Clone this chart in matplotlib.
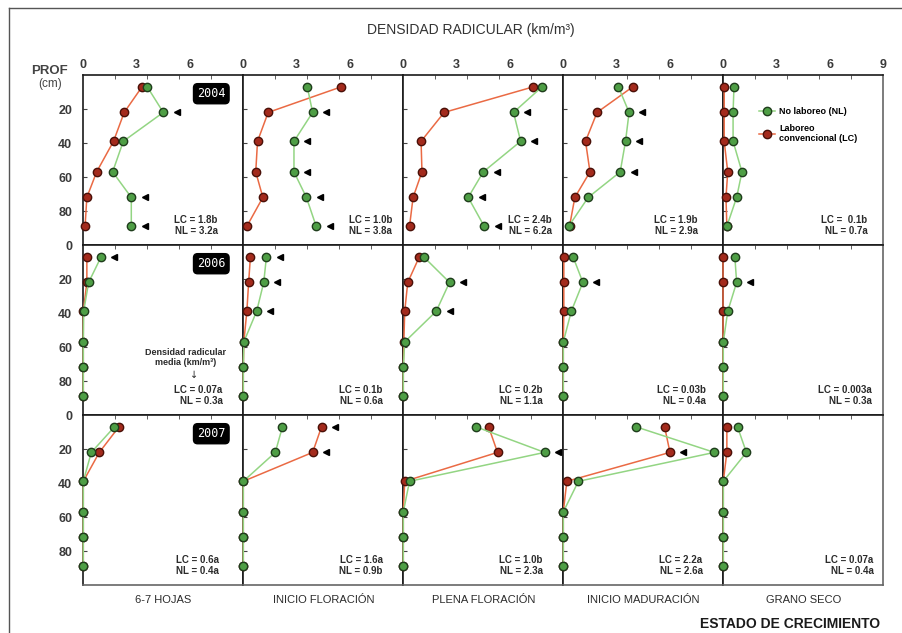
import numpy as np
import matplotlib
matplotlib.use("Agg")
import matplotlib.pyplot as plt
from matplotlib import font_manager
from matplotlib.lines import Line2D

# fuentes: Liberation (tipo Arial), con DejaVu como respaldo
plt.rcParams["font.family"] = ["Liberation Sans", "DejaVu Sans"]
_names = {f.name for f in font_manager.fontManager.ttflist}
NARROW = "Liberation Sans Narrow" if "Liberation Sans Narrow" in _names else "Liberation Sans"

# ------------------------------------------------------------------
# datos (densidad radicular, km/m3)
# ------------------------------------------------------------------
depth = [7, 22, 39, 57, 72, 89]

years = ["2004", "2006", "2007"]
stages = ["6-7 HOJAS", "INICIO FLORACIÓN", "PLENA FLORACIÓN",
          "INICIO MADURACIÓN", "GRANO SECO"]

lc_2004 = [
    [3.3, 2.3, 1.7, 0.75, 0.2, 0.1],
    [5.5, 1.4, 0.8, 0.7, 1.1, 0.2],
    [7.3, 2.3, 1.0, 1.05, 0.55, 0.35],
    [3.9, 1.9, 1.25, 1.5, 0.65, 0.35],
    [0.05, 0.05, 0.05, 0.25, 0.15, 0.2],
]
nl_2004 = [
    [3.6, 4.5, 2.25, 1.65, 2.7, 2.7],
    [3.6, 3.9, 2.85, 2.85, 3.55, 4.1],
    [7.8, 6.2, 6.6, 4.5, 3.65, 4.55],
    [3.1, 3.7, 3.5, 3.2, 1.4, 0.3],
    [0.6, 0.55, 0.55, 1.05, 0.75, 0.2],
]
lc_2006 = [
    [0.2, 0.2, 0.0, 0.0, 0.0, 0.0],
    [0.4, 0.3, 0.2, 0.03, 0.0, 0.0],
    [0.9, 0.25, 0.08, 0.03, 0.0, 0.0],
    [0.03, 0.03, 0.03, 0.0, 0.0, 0.0],
    [0.0, 0.0, 0.0, 0.0, 0.0, 0.0],
]
nl_2006 = [
    [1.0, 0.3, 0.02, 0.0, 0.0, 0.0],
    [1.3, 1.15, 0.75, 0.03, 0.0, 0.0],
    [1.15, 2.6, 1.85, 0.08, 0.0, 0.0],
    [0.55, 1.1, 0.45, 0.0, 0.0, 0.0],
    [0.65, 0.75, 0.25, 0.0, 0.0, 0.0],
]
lc_2007 = [
    [2.0, 0.9, 0.0, 0.0, 0.0, 0.0],
    [4.4, 3.9, 0.0, 0.0, 0.0, 0.0],
    [4.8, 5.3, 0.08, 0.0, 0.0, 0.0],
    [5.7, 6.0, 0.2, 0.0, 0.0, 0.0],
    [0.2, 0.2, 0.0, 0.0, 0.0, 0.0],
]
nl_2007 = [
    [1.75, 0.45, 0.0, 0.0, 0.0, 0.0],
    [2.2, 1.8, 0.0, 0.0, 0.0, 0.0],
    [4.1, 7.95, 0.35, 0.0, 0.0, 0.0],
    [4.1, 8.5, 0.85, 0.0, 0.0, 0.0],
    [0.8, 1.3, 0.0, 0.0, 0.0, 0.0],
]

# medias por panel
means_2004 = ["LC = 1.8b\nNL = 3.2a", "LC = 1.0b\nNL = 3.8a", "LC = 2.4b\nNL = 6.2a",
              "LC = 1.9b\nNL = 2.9a", "LC =  0.1b\nNL = 0.7a"]
means_2006 = ["LC = 0.07a\nNL = 0.3a", "LC = 0.1b\nNL = 0.6a", "LC = 0.2b\nNL = 1.1a",
              "LC = 0.03b\nNL = 0.4a", "LC = 0.003a\nNL = 0.3a"]
means_2007 = ["LC = 0.6a\nNL = 0.4a", "LC = 1.6a\nNL = 0.9b", "LC = 1.0b\nNL = 2.3a",
              "LC = 2.2a\nNL = 2.6a", "LC = 0.07a\nNL = 0.4a"]

# flechas de diferencia significativa: (serie, indices de profundidad)
arrows_2004 = [("NL", [1, 4, 5]), ("NL", [1, 2, 3, 4, 5]), ("NL", [1, 2, 3, 4, 5]),
               ("NL", [1, 2, 3]), ("NL", [])]
arrows_2006 = [("NL", [0]), ("NL", [0, 1, 2]), ("NL", [1, 2]), ("NL", [1]), ("NL", [1])]
arrows_2007 = [("NL", []), ("LC", [0, 1]), ("NL", [1]), ("LC", [1]), ("NL", [])]

lc_all = [lc_2004, lc_2006, lc_2007]
nl_all = [nl_2004, nl_2006, nl_2007]
means_all = [means_2004, means_2006, means_2007]
arrows_all = [arrows_2004, arrows_2006, arrows_2007]

# ------------------------------------------------------------------
# estilo y geometria (pixeles de la figura)
# ------------------------------------------------------------------
W, H = 903, 633
LEFT, COLW = 83.3, 160
TOPS = [75, 245, 415]
ROWH = 170
means_x = [[0.84, 0.93, 0.93, 0.84, 0.90],
           [0.87, 0.87, 0.87, 0.89, 0.93],
           [0.85, 0.87, 0.87, 0.87, 0.94]]

NL_LINE, NL_FILL, NL_EDGE = "#93d583", "#4e9e45", "#1f3d1c"
LC_LINE, LC_FILL, LC_EDGE = "#ea6a44", "#a32a1c", "#4a1008"
TXT = "#2b2b2b"

fig = plt.figure(figsize=(W / 100, H / 100), dpi=100)
fig.patch.set_facecolor("white")

for r in range(3):
    for c in range(5):
        ax = fig.add_axes([(LEFT + c * COLW) / W, 1 - (TOPS[r] + ROWH) / H,
                           COLW / W, ROWH / H])
        ax.set_facecolor("white")
        ax.plot(lc_all[r][c], depth, color=LC_LINE, lw=1.1, marker="o", ms=6,
                mfc=LC_FILL, mec=LC_EDGE, mew=1.0, clip_on=False, zorder=3)
        ax.plot(nl_all[r][c], depth, color=NL_LINE, lw=1.1, marker="o", ms=6,
                mfc=NL_FILL, mec=NL_EDGE, mew=1.0, clip_on=False, zorder=4)

        serie, idx = arrows_all[r][c]
        vals = nl_all[r][c] if serie == "NL" else lc_all[r][c]
        for i in idx:
            ax.plot(vals[i] + 0.75, depth[i], marker="<", ms=4, color="black",
                    mec="black", zorder=5)

        ax.set_xlim(0, 9)
        ax.set_ylim(100, 0)

        # eje x arriba
        ax.xaxis.set_ticks_position("top")
        if r == 0:
            xt = [0, 3, 6, 9] if c == 4 else [0, 3, 6]
            ax.set_xticks(xt)
            ax.set_xticklabels([str(v) for v in xt], fontsize=9, fontweight="bold", color="#3a3a3a")
        else:
            ax.set_xticks([])
        ax.set_xticks(np.linspace(0, 9, 6)[1:-1], minor=True)
        ax.tick_params(axis="x", which="major", length=0, pad=3)
        ax.tick_params(axis="x", which="minor", direction="in", length=3,
                       top=True, bottom=False, color="#444")

        # eje y
        yt = [20, 40, 60, 80, 100] if r < 2 else [20, 40, 60, 80]
        ax.set_yticks(yt)
        if c == 0:
            ax.set_yticklabels(["0" if v == 100 else str(v) for v in yt],
                               fontsize=9, fontweight="bold", color="#3a3a3a")
        else:
            ax.set_yticklabels([])
        ax.tick_params(axis="y", direction="in", length=3, pad=8, color="#444")

        for s in ax.spines.values():
            s.set_color("#1a1a1a")
            s.set_linewidth(1.2)
        if r == 2:
            ax.spines["bottom"].set_color("#666")
        if c == 4:
            ax.spines["right"].set_color("#666")

        # medias
        ax.text(means_x[r][c], 0.05, means_all[r][c], transform=ax.transAxes,
                ha="right", va="bottom", fontsize=7, fontweight="bold",
                family=NARROW, color=TXT, linespacing=1.15, zorder=6)

        if c == 0:
            ax.text(0.80, 0.89, years[r], transform=ax.transAxes, ha="center",
                    va="center", color="white", fontsize=8.5, family="DejaVu Sans Mono",
                    bbox=dict(boxstyle="round,pad=0.3,rounding_size=0.35",
                              fc="black", ec="black"), zorder=6)
        if r == 1 and c == 0:
            ax.text(0.64, 0.34, "Densidad radicular\nmedia (km/m³)", transform=ax.transAxes,
                    ha="center", va="center", fontsize=6.5, fontweight="bold",
                    family=NARROW, color=TXT, linespacing=1.1)
            ax.text(0.69, 0.235, "↓", transform=ax.transAxes, ha="center", va="center",
                    fontsize=7, family="DejaVu Sans", color=TXT)
        if r == 0 and c == 4:
            ax.legend([Line2D([], [], color=NL_LINE, lw=1.1, marker="o", ms=6,
                              mfc=NL_FILL, mec=NL_EDGE),
                       Line2D([], [], color=LC_LINE, lw=1.1, marker="o", ms=6,
                              mfc=LC_FILL, mec=LC_EDGE)],
                      ["No laboreo (NL)", "Laboreo\nconvencional (LC)"],
                      loc="upper left", bbox_to_anchor=(0.17, 0.86), frameon=False,
                      prop=dict(size=6.5, weight="bold", family=NARROW),
                      handlelength=1.8, handletextpad=0.5, labelspacing=0.9)

# marco exterior
fig.add_artist(Line2D([9 / W, 1], [1 - 8 / H, 1 - 8 / H], transform=fig.transFigure,
                      color="#555", lw=1))
fig.add_artist(Line2D([9 / W, 9 / W], [0, 1 - 8 / H], transform=fig.transFigure,
                      color="#555", lw=1))

fig.text(471 / W, 1 - 30 / H, "DENSIDAD RADICULAR (km/m³)", ha="center", va="center",
         fontsize=10, color="#333")
fig.text(50 / W, 1 - 71 / H, "PROF", ha="center", va="center", fontsize=9.5,
         fontweight="bold", color="#444")
fig.text(50 / W, 1 - 84 / H, "(cm)", ha="center", va="center", fontsize=8.5,
         color="#444")

for c, name in enumerate(stages):
    fig.text((LEFT + c * COLW + COLW / 2) / W, 1 - 600 / H, name, ha="center",
             va="center", fontsize=8, family=NARROW, color=TXT)
fig.text(880 / W, 1 - 624 / H, "ESTADO DE CRECIMIENTO", ha="right", va="center",
         fontsize=10, fontweight="bold", family=NARROW, color="#1a1a1a")

fig.savefig("out.png", dpi=100)
plt.close(fig)
